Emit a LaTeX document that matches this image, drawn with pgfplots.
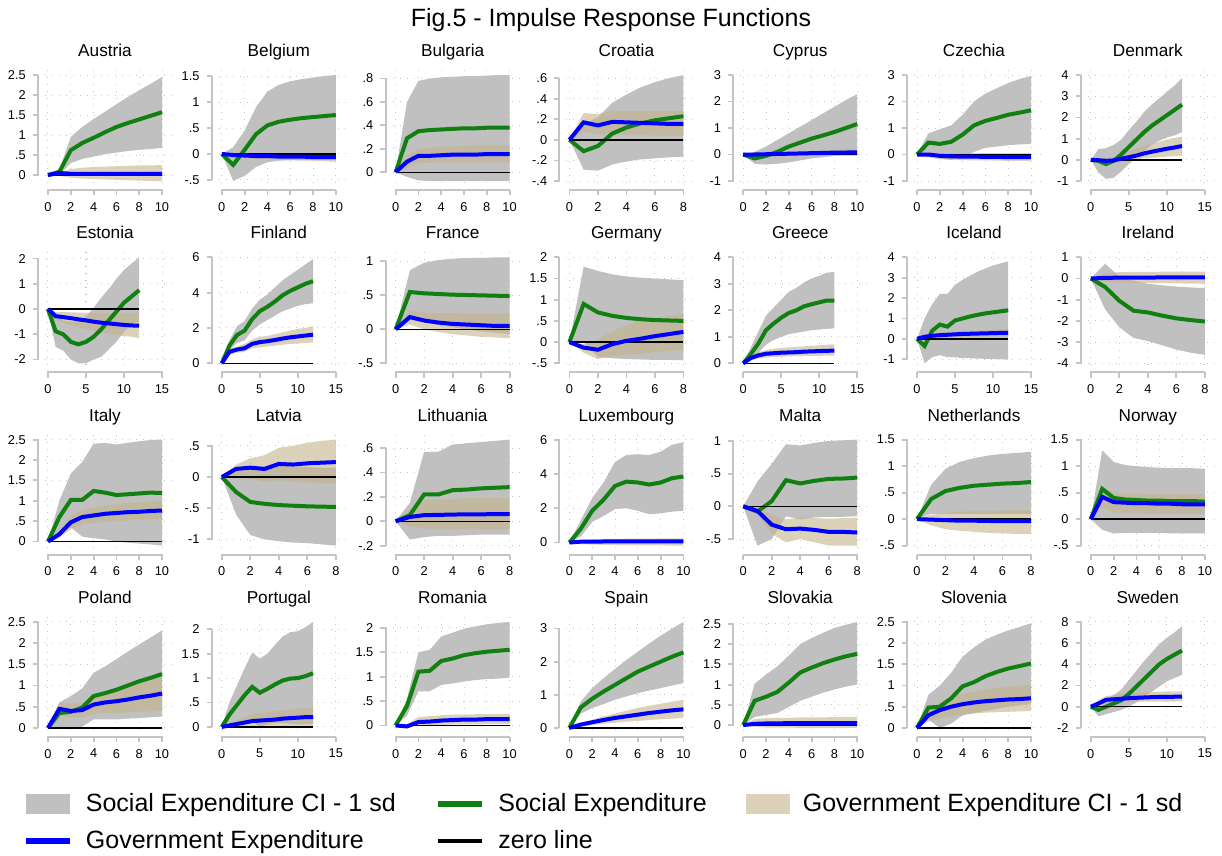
\documentclass[border=0pt]{standalone}
\usepackage{fontspec}
\setmainfont{Liberation Sans}
\usepackage{pgfplots}
\pgfplotsset{compat=1.18}
\usepackage{pgfplotstable}
\usepgfplotslibrary{fillbetween}

\definecolor{cigray}{RGB}{192,192,192}
\definecolor{citan}{RGB}{196,180,140}
\definecolor{socgreen}{RGB}{16,128,16}
\definecolor{axgray}{RGB}{196,196,196}

% columns: horizon, social CI low/high, gov CI low/high, social, gov, zero
\pgfplotstableread{
x gl gu tl tu g b z
0 0 0 0 0 0 0 0
1 0.00 0.15 -0.02 0.07 0.08 0.05 0
2 0.30 0.95 -0.07 0.15 0.62 0.03 0
3 0.40 1.20 -0.09 0.18 0.80 0.03 0
4 0.46 1.40 -0.10 0.20 0.93 0.03 0
5 0.52 1.58 -0.11 0.21 1.07 0.03 0
6 0.56 1.77 -0.12 0.22 1.20 0.03 0
7 0.60 1.95 -0.13 0.23 1.30 0.03 0
8 0.63 2.12 -0.14 0.24 1.39 0.03 0
9 0.65 2.28 -0.15 0.24 1.48 0.03 0
10 0.68 2.45 -0.15 0.25 1.57 0.03 0
}\Austria
\pgfplotstableread{
x gl gu tl tu g b z
0 0 0 0 0 0 0 0
1 -0.52 0.13 -0.06 0.01 -0.21 -0.02 0
2 -0.42 0.45 -0.08 0.01 0.08 -0.03 0
3 -0.25 0.90 -0.09 0.01 0.38 -0.04 0
4 -0.16 1.20 -0.10 0.01 0.55 -0.04 0
5 -0.13 1.33 -0.11 0.01 0.62 -0.05 0
6 -0.12 1.40 -0.12 0.01 0.66 -0.05 0
7 -0.12 1.44 -0.13 0.01 0.69 -0.05 0
8 -0.12 1.47 -0.13 0.01 0.71 -0.06 0
9 -0.12 1.50 -0.14 0.01 0.73 -0.06 0
10 -0.12 1.52 -0.15 0.01 0.75 -0.06 0
}\Belgium
\pgfplotstableread{
x gl gu tl tu g b z
0 0 0 0 0 0 0 0
1 -0.04 0.60 0.04 0.14 0.29 0.09 0
2 -0.07 0.78 0.08 0.20 0.35 0.14 0
3 -0.075 0.80 0.08 0.21 0.36 0.14 0
4 -0.075 0.81 0.085 0.22 0.365 0.145 0
5 -0.075 0.815 0.085 0.22 0.37 0.15 0
6 -0.075 0.82 0.085 0.225 0.375 0.15 0
7 -0.075 0.82 0.085 0.23 0.375 0.15 0
8 -0.075 0.825 0.085 0.23 0.38 0.155 0
9 -0.075 0.83 0.085 0.23 0.38 0.155 0
10 -0.075 0.83 0.085 0.23 0.38 0.155 0
}\Bulgaria
\pgfplotstableread{
x gl gu tl tu g b z
0 0 0 0 0 0 0 0
1 -0.29 0.15 0.08 0.26 -0.11 0.17 0
2 -0.30 0.22 0.05 0.25 -0.06 0.14 0
3 -0.24 0.36 0.06 0.28 0.06 0.175 0
4 -0.21 0.44 0.05 0.28 0.12 0.17 0
5 -0.19 0.51 0.05 0.28 0.16 0.165 0
6 -0.18 0.56 0.04 0.28 0.19 0.16 0
7 -0.17 0.60 0.04 0.28 0.21 0.155 0
8 -0.165 0.63 0.04 0.28 0.23 0.155 0
}\Croatia
\pgfplotstableread{
x gl gu tl tu g b z
0 0 0 0 0 0 0 0
1 -0.35 0.10 -0.03 0.03 -0.15 0.00 0
2 -0.38 0.30 -0.04 0.05 -0.05 0.01 0
3 -0.35 0.55 -0.05 0.07 0.10 0.02 0
4 -0.30 0.80 -0.05 0.09 0.30 0.03 0
5 -0.22 1.05 -0.05 0.11 0.45 0.04 0
6 -0.15 1.30 -0.05 0.13 0.60 0.05 0
7 -0.10 1.55 -0.05 0.15 0.72 0.06 0
8 -0.05 1.80 -0.05 0.17 0.85 0.07 0
9 0.00 2.05 -0.05 0.19 1.00 0.075 0
10 0.02 2.28 -0.05 0.20 1.15 0.08 0
}\Cyprus
\pgfplotstableread{
x gl gu tl tu g b z
0 0 0 0 0 0 0 0
1 0.05 0.80 -0.10 0.05 0.45 0.00 0
2 -0.15 0.95 -0.18 0.05 0.40 -0.05 0
3 -0.20 1.10 -0.20 0.05 0.48 -0.07 0
4 -0.10 1.50 -0.21 0.05 0.75 -0.08 0
5 0.10 2.00 -0.22 0.05 1.10 -0.08 0
6 0.25 2.30 -0.22 0.05 1.27 -0.09 0
7 0.30 2.50 -0.23 0.05 1.38 -0.09 0
8 0.35 2.70 -0.24 0.05 1.50 -0.10 0
9 0.38 2.85 -0.24 0.05 1.58 -0.10 0
10 0.40 2.97 -0.25 0.05 1.67 -0.10 0
}\Czechia
\pgfplotstableread{
x gl gu tl tu g b z
0 0 0 0 0 0 0 0
1 -0.60 0.50 -0.10 0.05 -0.05 -0.02 0
2 -0.90 0.55 -0.15 0.08 -0.20 -0.05 0
3 -0.85 0.70 -0.12 0.12 -0.05 -0.03 0
4 -0.55 0.95 -0.08 0.25 0.25 0.05 0
5 -0.20 1.40 -0.02 0.40 0.60 0.12 0
6 0.10 1.80 0.02 0.55 0.95 0.20 0
7 0.40 2.25 0.07 0.65 1.30 0.30 0
8 0.70 2.60 0.10 0.75 1.60 0.38 0
9 0.90 2.90 0.12 0.85 1.85 0.45 0
10 1.05 3.20 0.15 0.95 2.10 0.52 0
11 1.15 3.50 0.17 1.03 2.35 0.58 0
12 1.30 3.85 0.20 1.10 2.60 0.65 0
}\Denmark
\pgfplotstableread{
x gl gu tl tu g b z
0 0 0 0 0 0 0 0
1 -1.50 -0.30 -0.45 -0.12 -0.88 -0.28 0
2 -1.65 -0.45 -0.55 -0.12 -1.00 -0.32 0
3 -2.00 -0.50 -0.65 -0.13 -1.30 -0.36 0
4 -2.15 -0.50 -0.72 -0.14 -1.40 -0.41 0
5 -2.15 -0.30 -0.80 -0.14 -1.30 -0.45 0
6 -2.00 0.05 -0.87 -0.14 -1.10 -0.50 0
7 -1.90 0.45 -0.92 -0.15 -0.80 -0.54 0
8 -1.60 0.80 -0.97 -0.15 -0.45 -0.57 0
9 -1.30 1.20 -1.02 -0.15 -0.10 -0.60 0
10 -0.90 1.55 -1.07 -0.15 0.25 -0.63 0
11 -0.60 1.80 -1.10 -0.15 0.50 -0.65 0
12 -0.50 2.05 -1.15 -0.15 0.75 -0.66 0
}\Estonia
\pgfplotstableread{
x gl gu tl tu g b z
0 0 0 0 0 0 0 0
1 0.75 1.30 0.50 0.80 1.00 0.65 0
2 1.15 2.10 0.60 0.95 1.60 0.78 0
3 1.30 2.40 0.65 1.10 1.85 0.85 0
4 1.85 3.10 0.85 1.35 2.50 1.10 0
5 2.20 3.60 0.90 1.50 2.95 1.20 0
6 2.45 3.90 0.95 1.55 3.20 1.25 0
7 2.70 4.30 1.00 1.65 3.50 1.32 0
8 2.95 4.70 1.05 1.75 3.85 1.40 0
9 3.10 5.00 1.10 1.85 4.10 1.47 0
10 3.25 5.30 1.12 1.95 4.30 1.52 0
11 3.35 5.60 1.15 2.00 4.50 1.57 0
12 3.40 5.90 1.18 2.10 4.65 1.62 0
}\Finland
\pgfplotstableread{
x gl gu tl tu g b z
0 0 0 0 0 0 0 0
1 0.17 0.87 0.07 0.27 0.55 0.18 0
2 0.10 0.98 0.00 0.25 0.53 0.13 0
3 0.06 1.02 -0.04 0.24 0.52 0.10 0
4 0.03 1.04 -0.07 0.24 0.51 0.08 0
5 0.00 1.05 -0.09 0.23 0.505 0.07 0
6 -0.03 1.05 -0.11 0.23 0.50 0.06 0
7 -0.05 1.06 -0.12 0.23 0.495 0.05 0
8 -0.07 1.06 -0.13 0.23 0.49 0.05 0
}\France
\pgfplotstableread{
x gl gu tl tu g b z
0 0 0 0 0 0 0 0
1 0.00 1.78 -0.25 -0.05 0.90 -0.13 0
2 -0.35 1.68 -0.40 0.05 0.70 -0.18 0
3 -0.38 1.60 -0.33 0.25 0.62 -0.05 0
4 -0.40 1.55 -0.30 0.40 0.57 0.03 0
5 -0.41 1.52 -0.27 0.50 0.54 0.08 0
6 -0.42 1.50 -0.24 0.57 0.52 0.14 0
7 -0.42 1.48 -0.21 0.62 0.51 0.19 0
8 -0.43 1.46 -0.18 0.67 0.50 0.24 0
}\Germany
\pgfplotstableread{
x gl gu tl tu g b z
0 0 0 0 0 0 0 0
1 0.15 0.60 0.12 0.30 0.35 0.20 0
2 0.40 1.20 0.18 0.42 0.75 0.30 0
3 0.70 1.80 0.22 0.50 1.25 0.36 0
4 0.88 2.10 0.24 0.55 1.50 0.38 0
5 1.00 2.40 0.25 0.58 1.72 0.40 0
6 1.10 2.70 0.26 0.60 1.90 0.41 0
7 1.15 2.85 0.27 0.62 2.00 0.42 0
8 1.20 3.05 0.27 0.64 2.15 0.44 0
9 1.25 3.20 0.28 0.66 2.23 0.45 0
10 1.28 3.30 0.28 0.68 2.30 0.46 0
11 1.30 3.42 0.29 0.70 2.37 0.47 0
12 1.32 3.45 0.29 0.72 2.37 0.48 0
}\Greece
\pgfplotstableread{
x gl gu tl tu g b z
0 0 0 0 0 0 0 0
1 -1.20 1.00 0.00 0.15 -0.35 0.10 0
2 -0.90 1.70 0.05 0.25 0.40 0.15 0
3 -0.80 2.20 0.07 0.30 0.70 0.18 0
4 -0.90 2.20 0.08 0.33 0.60 0.20 0
5 -0.90 2.65 0.09 0.36 0.90 0.22 0
6 -0.95 2.90 0.10 0.39 1.00 0.24 0
7 -0.95 3.10 0.10 0.41 1.10 0.25 0
8 -0.97 3.30 0.11 0.43 1.18 0.26 0
9 -0.98 3.45 0.11 0.45 1.25 0.27 0
10 -1.00 3.60 0.12 0.47 1.30 0.28 0
11 -1.00 3.70 0.12 0.49 1.35 0.29 0
12 -1.02 3.80 0.12 0.50 1.40 0.30 0
}\Iceland
\pgfplotstableread{
x gl gu tl tu g b z
0 0 0 0 0 0 0 0
1 -1.45 0.70 -0.15 0.25 -0.40 0.03 0
2 -2.30 0.10 -0.18 0.30 -1.05 0.04 0
3 -2.80 -0.10 -0.20 0.31 -1.52 0.04 0
4 -2.95 -0.25 -0.21 0.31 -1.60 0.045 0
5 -3.15 -0.32 -0.22 0.32 -1.75 0.05 0
6 -3.35 -0.38 -0.23 0.32 -1.88 0.05 0
7 -3.50 -0.42 -0.24 0.32 -1.96 0.05 0
8 -3.60 -0.45 -0.25 0.32 -2.03 0.05 0
}\Ireland
\pgfplotstableread{
x gl gu tl tu g b z
0 0 0 0 0 0 0 0
1 0.15 1.00 0.10 0.28 0.60 0.18 0
2 0.35 1.67 0.30 0.62 1.02 0.47 0
3 0.12 1.95 0.42 0.78 1.02 0.60 0
4 0.08 2.40 0.45 0.84 1.24 0.64 0
5 0.05 2.42 0.48 0.88 1.20 0.68 0
6 0.00 2.38 0.50 0.92 1.14 0.70 0
7 -0.03 2.42 0.52 0.95 1.16 0.72 0
8 -0.05 2.46 0.53 0.97 1.18 0.73 0
9 -0.07 2.49 0.54 0.99 1.20 0.75 0
10 -0.10 2.50 0.55 1.00 1.19 0.76 0
}\Italy
\pgfplotstableread{
x gl gu tl tu g b z
0 0 0 0 0 0 0 0
1 -0.60 0.10 0.00 0.20 -0.24 0.13 0
2 -0.93 0.15 -0.03 0.30 -0.40 0.15 0
3 -1.00 0.17 -0.08 0.35 -0.43 0.13 0
4 -1.03 0.18 -0.05 0.47 -0.45 0.21 0
5 -1.05 0.17 -0.08 0.50 -0.46 0.20 0
6 -1.06 0.16 -0.09 0.55 -0.47 0.22 0
7 -1.08 0.15 -0.10 0.58 -0.475 0.23 0
8 -1.10 0.15 -0.10 0.60 -0.48 0.24 0
}\Latvia
\pgfplotstableread{
x gl gu tl tu g b z
0 0 0 0 0 0 0 0
1 -0.15 0.15 -0.04 0.10 0.05 0.035 0
2 -0.13 0.57 -0.06 0.17 0.22 0.05 0
3 -0.12 0.57 -0.06 0.18 0.22 0.052 0
4 -0.12 0.63 -0.065 0.18 0.255 0.055 0
5 -0.115 0.64 -0.065 0.19 0.26 0.056 0
6 -0.11 0.65 -0.065 0.19 0.27 0.057 0
7 -0.11 0.66 -0.065 0.19 0.275 0.058 0
8 -0.11 0.67 -0.065 0.19 0.28 0.058 0
}\Lithuania
\pgfplotstableread{
x gl gu tl tu g b z
0 0 0 0 0 0 0 0
1 0.35 1.30 -0.10 0.15 0.80 0.05 0
2 1.20 2.60 -0.12 0.18 1.85 0.05 0
3 1.55 3.50 -0.14 0.20 2.50 0.06 0
4 1.95 4.70 -0.15 0.21 3.30 0.06 0
5 2.00 5.10 -0.16 0.22 3.55 0.06 0
6 1.85 5.15 -0.16 0.23 3.50 0.06 0
7 1.65 5.10 -0.17 0.23 3.38 0.07 0
8 1.70 5.30 -0.17 0.24 3.50 0.07 0
9 1.80 5.70 -0.18 0.24 3.75 0.07 0
10 1.85 5.85 -0.18 0.25 3.85 0.07 0
}\Luxembourg
\pgfplotstableread{
x gl gu tl tu g b z
0 0 0 0 0 0 0 0
1 -0.60 0.38 -0.12 -0.03 -0.08 -0.07 0
2 -0.50 0.65 -0.42 -0.13 0.08 -0.28 0
3 -0.15 0.95 -0.55 -0.20 0.40 -0.35 0
4 -0.20 0.93 -0.50 -0.17 0.35 -0.34 0
5 -0.17 0.97 -0.55 -0.18 0.39 -0.36 0
6 -0.16 1.00 -0.60 -0.19 0.42 -0.39 0
7 -0.16 1.01 -0.60 -0.18 0.425 -0.39 0
8 -0.15 1.02 -0.60 -0.17 0.44 -0.40 0
}\Malta
\pgfplotstableread{
x gl gu tl tu g b z
0 0 0 0 0 0 0 0
1 0.10 0.65 -0.12 0.08 0.38 -0.01 0
2 0.10 0.95 -0.19 0.12 0.53 -0.02 0
3 0.10 1.08 -0.22 0.14 0.59 -0.03 0
4 0.10 1.15 -0.24 0.15 0.63 -0.03 0
5 0.10 1.20 -0.26 0.16 0.65 -0.035 0
6 0.10 1.23 -0.27 0.16 0.67 -0.04 0
7 0.10 1.25 -0.28 0.17 0.68 -0.04 0
8 0.10 1.27 -0.28 0.17 0.70 -0.04 0
}\Netherlands
\pgfplotstableread{
x gl gu tl tu g b z
0 0 0 0 0 0 0 0
1 -0.20 1.30 0.22 0.60 0.57 0.42 0
2 -0.27 1.08 0.12 0.50 0.40 0.32 0
3 -0.26 1.02 0.11 0.48 0.37 0.31 0
4 -0.26 1.00 0.11 0.48 0.36 0.30 0
5 -0.26 0.98 0.10 0.47 0.35 0.30 0
6 -0.26 0.97 0.10 0.47 0.35 0.29 0
7 -0.27 0.96 0.10 0.47 0.34 0.29 0
8 -0.27 0.96 0.10 0.47 0.34 0.28 0
9 -0.27 0.96 0.10 0.47 0.34 0.28 0
10 -0.27 0.95 0.10 0.47 0.33 0.28 0
}\Norway
\pgfplotstableread{
x gl gu tl tu g b z
0 0 0 0 0 0 0 0
1 0.00 0.60 0.30 0.60 0.35 0.45 0
2 0.00 0.75 0.24 0.58 0.38 0.40 0
3 0.03 0.93 0.24 0.60 0.48 0.42 0
4 0.20 1.30 0.33 0.75 0.75 0.55 0
5 0.20 1.45 0.35 0.82 0.82 0.60 0
6 0.20 1.62 0.36 0.90 0.90 0.63 0
7 0.22 1.80 0.37 0.97 1.00 0.67 0
8 0.23 1.97 0.38 1.05 1.10 0.72 0
9 0.25 2.13 0.39 1.12 1.18 0.76 0
10 0.27 2.30 0.40 1.20 1.27 0.81 0
}\Poland
\pgfplotstableread{
x gl gu tl tu g b z
0 0 0 0 0 0 0 0
1 0.00 0.50 -0.01 0.07 0.25 0.03 0
2 0.05 0.85 -0.01 0.13 0.45 0.06 0
3 0.10 1.20 0.00 0.20 0.65 0.09 0
4 0.12 1.52 0.00 0.26 0.82 0.12 0
5 0.00 1.40 -0.02 0.28 0.70 0.13 0
6 0.05 1.50 -0.01 0.30 0.78 0.14 0
7 0.08 1.68 0.00 0.32 0.87 0.15 0
8 0.08 1.85 0.00 0.34 0.95 0.17 0
9 0.06 1.94 0.00 0.36 0.99 0.18 0
10 0.05 1.96 0.00 0.38 1.00 0.19 0
11 0.05 2.04 0.00 0.39 1.04 0.20 0
12 0.06 2.15 0.00 0.40 1.10 0.20 0
}\Portugal
\pgfplotstableread{
x gl gu tl tu g b z
0 0 0 0 0 0 0 0
1 0.20 0.55 -0.05 0.03 0.40 -0.02 0
2 0.70 1.50 0.00 0.17 1.10 0.07 0
3 0.70 1.55 0.00 0.19 1.12 0.08 0
4 0.83 1.82 0.01 0.21 1.32 0.10 0
5 0.86 1.90 0.02 0.22 1.37 0.11 0
6 0.90 1.98 0.02 0.22 1.44 0.12 0
7 0.93 2.03 0.02 0.23 1.48 0.12 0
8 0.95 2.07 0.03 0.23 1.51 0.13 0
9 0.96 2.10 0.03 0.23 1.53 0.13 0
10 0.98 2.12 0.03 0.23 1.55 0.13 0
}\Romania
\pgfplotstableread{
x gl gu tl tu g b z
0 0 0 0 0 0 0 0
1 0.43 0.80 0.05 0.15 0.62 0.10 0
2 0.60 1.20 0.09 0.25 0.88 0.17 0
3 0.72 1.50 0.13 0.35 1.10 0.24 0
4 0.85 1.78 0.16 0.43 1.30 0.30 0
5 0.95 2.05 0.19 0.52 1.50 0.35 0
6 1.05 2.30 0.21 0.60 1.70 0.40 0
7 1.13 2.55 0.24 0.67 1.85 0.45 0
8 1.20 2.78 0.26 0.73 2.00 0.49 0
9 1.28 3.00 0.28 0.79 2.15 0.53 0
10 1.35 3.20 0.30 0.85 2.28 0.56 0
}\Spain
\pgfplotstableread{
x gl gu tl tu g b z
0 0 0 0 0 0 0 0
1 0.20 1.02 -0.05 0.15 0.60 0.03 0
2 0.25 1.25 -0.06 0.17 0.70 0.04 0
3 0.30 1.45 -0.06 0.18 0.82 0.04 0
4 0.45 1.72 -0.06 0.18 1.05 0.05 0
5 0.60 2.00 -0.07 0.19 1.30 0.05 0
6 0.70 2.15 -0.07 0.19 1.42 0.05 0
7 0.80 2.28 -0.07 0.19 1.53 0.05 0
8 0.88 2.40 -0.07 0.20 1.62 0.05 0
9 0.95 2.48 -0.07 0.20 1.70 0.05 0
10 1.00 2.55 -0.07 0.20 1.76 0.05 0
}\Slovakia
\pgfplotstableread{
x gl gu tl tu g b z
0 0 0 0 0 0 0 0
1 0.20 0.78 0.15 0.45 0.48 0.30 0
2 0.00 1.00 0.22 0.60 0.50 0.42 0
3 0.10 1.30 0.27 0.72 0.70 0.50 0
4 0.30 1.68 0.31 0.80 0.98 0.56 0
5 0.35 1.90 0.34 0.86 1.08 0.60 0
6 0.40 2.08 0.36 0.91 1.22 0.63 0
7 0.45 2.20 0.37 0.95 1.32 0.65 0
8 0.50 2.30 0.38 0.98 1.40 0.67 0
9 0.53 2.38 0.39 1.00 1.46 0.68 0
10 0.56 2.47 0.40 1.02 1.52 0.70 0
}\Slovenia
\pgfplotstableread{
x gl gu tl tu g b z
0 0 0 0 0 0 0 0
1 -0.90 0.30 0.05 0.60 -0.30 0.30 0
2 -0.70 0.70 0.30 1.00 0.00 0.65 0
3 -0.50 1.10 0.38 1.10 0.30 0.70 0
4 -0.30 1.60 0.42 1.20 0.60 0.75 0
5 0.00 2.50 0.45 1.30 1.20 0.80 0
6 0.40 3.40 0.46 1.35 1.90 0.84 0
7 0.90 4.30 0.47 1.38 2.60 0.87 0
8 1.40 5.10 0.48 1.40 3.30 0.90 0
9 1.90 5.90 0.48 1.42 4.00 0.92 0
10 2.40 6.50 0.49 1.44 4.50 0.93 0
11 2.70 7.00 0.49 1.45 4.90 0.94 0
12 3.00 7.60 0.50 1.46 5.30 0.95 0
}\Sweden

\pgfplotsset{
  panel/.style={
    scale only axis, width=67pt, height=62pt, anchor=south west,
    axis lines*=left, axis line style={axgray, line width=1pt},
    x axis line style={shorten <=5pt, shorten >=5pt},
    tick align=outside, major tick length=2.6pt, tick style={axgray, line width=0.9pt},
    enlarge x limits=0.0877, enlarge y limits=0.085,
    grid=major, major grid style={draw=gray!45, line width=0.5pt, dash pattern=on 0.5pt off 3pt},
    scaled ticks=false,
    tick label style={font=\fontsize{6.4}{7.5}\selectfont},
    title style={font=\fontsize{8.6}{10}\selectfont, anchor=base, yshift=-1.3pt},
    /pgf/number format/assume math mode=true,
    /pgf/number format/skip 0.=true,
  },
  panelextra/.style={},
  xr8/.style={xmin=0, xmax=8, xtick={0,2,4,6,8}},
  xr10/.style={xmin=0, xmax=10, xtick={0,2,4,6,8,10}},
  xr15/.style={xmin=0, xmax=15, xtick={0,5,10,15}},
  graybd/.style={fill=cigray, draw=none,
    legend image code/.code={\fill[cigray] (0pt,-4.8pt) rectangle (22pt,4.8pt);}},
  tanbd/.style={fill=citan, fill opacity=0.6, draw=none,
    legend image code/.code={\fill[citan, fill opacity=0.6] (0pt,-4.8pt) rectangle (22pt,4.8pt);}},
  socln/.style={socgreen, line width=2pt, no markers,
    legend image code/.code={\draw[socgreen, line width=3.3pt] (0pt,0pt) -- (22pt,0pt);}},
  govln/.style={blue, line width=2pt, no markers,
    legend image code/.code={\draw[blue, line width=3.3pt] (0pt,0pt) -- (22pt,0pt);}},
  zeroln/.style={black, line width=0.7pt, no markers,
    legend image code/.code={\draw[black, line width=1.6pt] (0pt,0pt) -- (22pt,0pt);}},
}

\let\legendhere\relax
\def\gobblefirst#1{}
\newcommand{\nameof}[1]{\expandafter\gobblefirst\string#1}

% #1 table (its name is the title), #2 column, #3 row, #4 last x tick,
% #5 ymin, #6 ymax, #7 y ticks, #8/#9 first/last y tick
\newcommand{\panel}[9]{%
  \pgfmathsetmacro\axx{19+86.9*#2}%
  \pgfmathsetmacro\axy{-95-91.15*#3}%
  \pgfmathsetmacro\yrng{#6-(#5)}%
  \pgfmathsetmacro\ysb{(#8-(#5)+0.085*\yrng)/(1.17*\yrng)*62}%
  \pgfmathsetmacro\yst{(#6-(#9)+0.085*\yrng)/(1.17*\yrng)*62}%
  \begin{axis}[panel, xr#4, at={(\axx pt,\axy pt)}, panelextra,
      title={\nameof{#1}}, ymin=#5, ymax=#6, ytick={#7},
      y axis line style={shorten <=\ysb pt, shorten >=\yst pt}]
    \addplot[forget plot, draw=none, name path=gu] table[x=x, y=gu] {#1};
    \addplot[forget plot, draw=none, name path=gl] table[x=x, y=gl] {#1};
    \addplot[graybd] fill between[of=gu and gl];
    \addplot[socln] table[x=x, y=g] {#1};
    \addplot[forget plot, draw=none, name path=tu] table[x=x, y=tu] {#1};
    \addplot[forget plot, draw=none, name path=tl] table[x=x, y=tl] {#1};
    \addplot[tanbd] fill between[of=tu and tl];
    \addplot[zeroln, forget plot] table[x=x, y=z] {#1};
    \addplot[govln] table[x=x, y=b] {#1};
    \addlegendimage{zeroln}
    \legendhere
  \end{axis}}

\begin{document}
\begin{tikzpicture}
\path (0,0) rectangle (611pt,-427.5pt);
\node[font=\fontsize{12.5}{15}\selectfont, anchor=base] at (305.5pt,-13pt) {Fig.5 - Impulse Response Functions};

\panel{\Austria}{0}{0}{10}{-0.15}{2.5}{0,0.5,1,1.5,2,2.5}{0}{2.5}
\panel{\Belgium}{1}{0}{10}{-0.52}{1.52}{-0.5,0,0.5,1,1.5}{-0.5}{1.5}
\panel{\Bulgaria}{2}{0}{10}{-0.075}{0.83}{0,0.2,0.4,0.6,0.8}{0}{0.8}
\panel{\Croatia}{3}{0}{8}{-0.4}{0.63}{-0.4,-0.2,0,0.2,0.4,0.6}{-0.4}{0.6}
\panel{\Cyprus}{4}{0}{10}{-1}{3}{-1,0,1,2,3}{-1}{3}
\panel{\Czechia}{5}{0}{10}{-1}{3}{-1,0,1,2,3}{-1}{3}
\panel{\Denmark}{6}{0}{15}{-1}{4}{-1,0,1,2,3,4}{-1}{4}

\panel{\Estonia}{0}{1}{15}{-2.15}{2.05}{-2,-1,0,1,2}{-2}{2}
\panel{\Finland}{1}{1}{15}{0}{6}{0,2,4,6}{0}{6}
\panel{\France}{2}{1}{8}{-0.5}{1.06}{-0.5,0,0.5,1}{-0.5}{1}
\panel{\Germany}{3}{1}{8}{-0.5}{2}{-0.5,0,0.5,1,1.5,2}{-0.5}{2}
\panel{\Greece}{4}{1}{15}{0}{4}{0,1,2,3,4}{0}{4}
\panel{\Iceland}{5}{1}{15}{-1.2}{4}{-1,0,1,2,3,4}{-1}{4}
\panel{\Ireland}{6}{1}{8}{-4}{1}{-4,-3,-2,-1,0,1}{-4}{1}

\panel{\Italy}{0}{2}{10}{-0.1}{2.5}{0,0.5,1,1.5,2,2.5}{0}{2.5}
\panel{\Latvia}{1}{2}{8}{-1.1}{0.6}{-1,-0.5,0,0.5}{-1}{0.5}
\panel{\Lithuania}{2}{2}{8}{-0.2}{0.67}{-0.2,0,0.2,0.4,0.6}{-0.2}{0.6}
\panel{\Luxembourg}{3}{2}{10}{-0.18}{6}{0,2,4,6}{0}{6}
\panel{\Malta}{4}{2}{8}{-0.6}{1.02}{-0.5,0,0.5,1}{-0.5}{1}
\panel{\Netherlands}{5}{2}{8}{-0.5}{1.5}{-0.5,0,0.5,1,1.5}{-0.5}{1.5}
\panel{\Norway}{6}{2}{10}{-0.5}{1.5}{-0.5,0,0.5,1,1.5}{-0.5}{1.5}

\def\legendhere{\legend{Social Expenditure CI - 1 sd, Social Expenditure, Government Expenditure CI - 1 sd, Government Expenditure, zero line}}
\pgfplotsset{panelextra/.style={
  legend columns=3, legend cell align=left,
  legend style={at={(-0.12,-0.42)}, anchor=north west,
    draw=none, fill=none, inner sep=0pt,
    font=\fontsize{12.5}{15}\selectfont, row sep=4pt,
    /tikz/every odd column/.append style={column sep=4.5pt},
    /tikz/every even column/.append style={column sep=17.5pt}}}}
\panel{\Poland}{0}{3}{10}{0}{2.5}{0,0.5,1,1.5,2,2.5}{0}{2.5}
\let\legendhere\relax
\pgfplotsset{panelextra/.style={}}
\panel{\Portugal}{1}{3}{15}{-0.02}{2.15}{0,0.5,1,1.5,2}{0}{2}
\panel{\Romania}{2}{3}{10}{-0.05}{2.12}{0,0.5,1,1.5,2}{0}{2}
\panel{\Spain}{3}{3}{10}{0}{3.2}{0,1,2,3}{0}{3}
\panel{\Slovakia}{4}{3}{10}{-0.07}{2.55}{0,0.5,1,1.5,2,2.5}{0}{2.5}
\panel{\Slovenia}{5}{3}{10}{0}{2.5}{0,0.5,1,1.5,2,2.5}{0}{2.5}
\panel{\Sweden}{6}{3}{15}{-2}{8}{-2,0,2,4,6,8}{-2}{8}
\end{tikzpicture}
\end{document}
